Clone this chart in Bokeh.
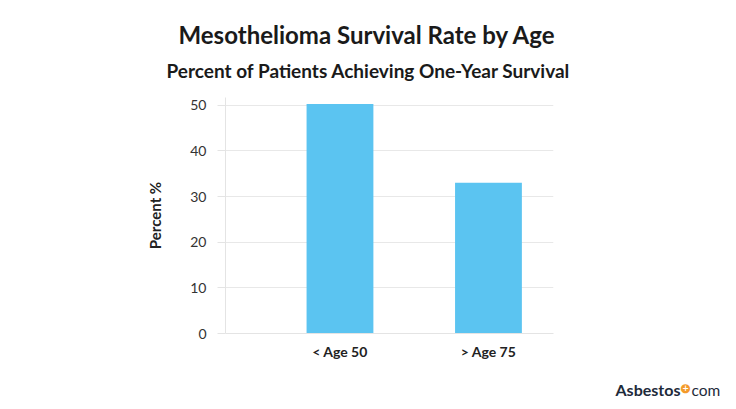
from bokeh.plotting import figure
from bokeh.models import Label, FixedTicker, Range1d, Title
from bokeh.layouts import column, row
from bokeh.embed import file_html
from bokeh.resources import INLINE

categories = ["< Age 50", "> Age 75"]
survival = [50.3, 33.0]
y_ticks = [0, 10, 20, 30, 40, 50]

positions = list(range(1, len(categories) + 1))

font = "Lato"
p = figure(width=736, height=372, output_backend="svg", toolbar_location=None,
           x_range=Range1d(0.229, 2.438), y_range=Range1d(0, 51.7),
           min_border_left=225, min_border_right=183, min_border_top=97, min_border_bottom=39,
           title="Mesothelioma Survival Rate by Age")
p.outline_line_color = None
p.background_fill_color = "white"
p.border_fill_color = "white"

p.title.align = "left"
p.title.offset = -47
p.title.text_font = font
p.title.text_font_style = "bold"
p.title.text_font_size = "24px"
p.title.text_color = "#1a1a1a"
p.title.standoff = -15

sub = Title(text="Percent of Patients Achieving One-Year Survival", align="left", offset=-59,
            text_font=font, text_font_style="bold", text_font_size="19px",
            text_color="#1a1a1a", standoff=31)
p.add_layout(sub, "above")

p.vbar(x=positions, top=survival, width=0.45, color="#5bc4f1", line_color=None)

p.xaxis.ticker = FixedTicker(ticks=positions)
p.xaxis.major_label_overrides = {pos: c for pos, c in zip(positions, categories)}
p.xaxis.major_tick_line_color = None
p.xaxis.minor_tick_line_color = None
p.xaxis.axis_line_color = "#e4e4e4"
p.xaxis.major_label_text_font = font
p.xaxis.major_label_text_font_style = "bold"
p.xaxis.major_label_text_font_size = "14px"
p.xaxis.major_label_text_color = "#222222"
p.xaxis.major_label_standoff = 3

p.yaxis.ticker = FixedTicker(ticks=y_ticks)
p.yaxis.minor_tick_line_color = None
p.yaxis.major_tick_line_color = "#e4e4e4"
p.yaxis.major_tick_out = 8
p.yaxis.major_tick_in = 0
p.yaxis.axis_line_color = "#e4e4e4"
p.yaxis.major_label_text_font = font
p.yaxis.major_label_text_font_size = "14px"
p.yaxis.major_label_text_color = "#333333"
p.yaxis.major_label_standoff = 11
p.yaxis.axis_label = "Percent %"
p.yaxis.axis_label_text_font = font
p.yaxis.axis_label_text_font_style = "bold"
p.yaxis.axis_label_text_font_size = "15px"
p.yaxis.axis_label_text_color = "#222222"
p.yaxis.axis_label_standoff = 23

p.xgrid.grid_line_color = None
p.ygrid.grid_line_color = "#e8e8e8"
p.ygrid.ticker = FixedTicker(ticks=y_ticks)

# logo strip (a separate small canvas whose data units equal pixels)
logo = figure(width=736, height=37, output_backend="svg", toolbar_location=None,
              x_range=Range1d(0, 736), y_range=Range1d(0, 37),
              x_axis_location=None, y_axis_location=None,
              min_border_left=0, min_border_right=0, min_border_top=0, min_border_bottom=0)
logo.grid.visible = False
logo.outline_line_color = None
logo.add_layout(Label(x=615, y=20, text="Asbestos",
                      text_align="left", text_baseline="alphabetic", text_font=font,
                      text_font_style="bold", text_font_size="16px", text_color="#1d2a3a"))
logo.add_layout(Label(x=685, y=22, text="●",
                      text_align="center", text_baseline="middle", text_font="DejaVu Sans",
                      text_font_size="12px", text_color="#f39a2b"))
logo.add_layout(Label(x=685, y=22, text="+",
                      text_align="center", text_baseline="middle", text_font="DejaVu Sans",
                      text_font_style="bold", text_font_size="8px", text_color="#ffffff"))
logo.add_layout(Label(x=691, y=20, text="com",
                      text_align="left", text_baseline="alphabetic", text_font=font,
                      text_font_size="15.5px", text_color="#1d2a3a"))

layout = column(p, row(logo, spacing=0), spacing=0)
open("out.html", "w").write(file_html(layout, INLINE))
